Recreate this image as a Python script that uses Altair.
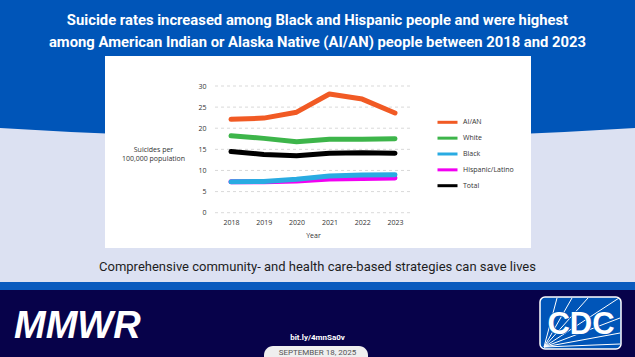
import altair as alt
import pandas as pd

# ---------------- data ----------------
years = [2018, 2019, 2020, 2021, 2022, 2023]
series_names = ["AI/AN", "White", "Black", "Hispanic/Latino", "Total"]
series_colors = ["#F15A24", "#3DB54A", "#29ABE2", "#F200F2", "#000000"]
aian = [22.1, 22.4, 23.8, 28.1, 26.9, 23.6]
white = [18.2, 17.6, 16.8, 17.4, 17.4, 17.5]
black = [7.3, 7.4, 7.9, 8.7, 8.9, 9.0]
hispanic = [7.3, 7.3, 7.5, 8.0, 8.1, 8.2]
total = [14.5, 13.8, 13.5, 14.1, 14.2, 14.1]
y_ticks = [0, 5, 10, 15, 20, 25, 30]

values = {"AI/AN": aian, "White": white, "Black": black,
          "Hispanic/Latino": hispanic, "Total": total}
draw_order = ["AI/AN", "White", "Hispanic/Latino", "Black", "Total"]

title_1 = "Suicide rates increased among Black and Hispanic people and were highest"
title_2 = "among American Indian or Alaska Native (AI/AN) people between 2018 and 2023"
subtitle = "Comprehensive community- and health care-based strategies can save lives"
y_title = ["Suicides per", "100,000 population"]
x_title = "Year"

rows = []
for s in draw_order:
    for yr, v in zip(years, values[s]):
        rows.append({"year": str(yr), "series": s, "rate": v})
df = pd.DataFrame(rows)

W, H = 635, 357
BLUE = "#0055B8"
NAVY = "#07024A"
LAV = "#DCE1F2"
HEAD = "Roboto"
SANS = "Open Sans"

base = alt.Chart(pd.DataFrame({"k": [0]}))


def rect(x, x2, y, y2, color, **kw):
    return base.mark_rect(color=color, **kw).encode(
        x=alt.value(x), x2=alt.value(x2), y=alt.value(y), y2=alt.value(y2))


def text(t, x, y, **kw):
    return base.mark_text(text=t, **kw).encode(x=alt.value(x), y=alt.value(y))


def rule(x, y, x2, y2, **kw):
    return base.mark_rule(**kw).encode(
        x=alt.value(x), y=alt.value(y), x2=alt.value(x2), y2=alt.value(y2))


layers = []
# top blue band with curved bottom edge
layers.append(base.mark_point(
    shape="M0,0H635V128Q317.5,148 0,128Z", size=4, filled=True,
    fill=BLUE, opacity=1, strokeOpacity=0).encode(x=alt.value(0), y=alt.value(0)))
# bottom bands
layers.append(rect(0, W, 282, 290, "#0A5BBE"))
layers.append(rect(0, W, 290, H, NAVY))
# white panel
layers.append(rect(105, 531, 56, 248, "#FFFFFF"))

# titles
layers.append(text(title_1, 317.5, 25, font=HEAD, fontSize=14.8, fontWeight="bold",
                   color="white", align="center", baseline="alphabetic"))
layers.append(text(title_2, 317.5, 46.5, font=HEAD, fontSize=14.8, fontWeight="bold",
                   color="white", align="center", baseline="alphabetic"))
layers.append(text(subtitle, 317.5, 271, font=HEAD, fontSize=13,
                   color="#1E1E1E", align="center", baseline="alphabetic"))

# chart
x_scale = alt.Scale(type="point", domain=[str(y) for y in years], range=[231, 395], padding=0)
y_scale = alt.Scale(domain=[0, 30], range=[212.7, 86], nice=False, zero=True)
color_scale = alt.Scale(domain=series_names, range=series_colors)

x_axis = alt.Axis(orient="bottom", offset=-(H - 215), domain=False, ticks=False, tickSize=0,
                  grid=False, labelAngle=0, labelPadding=3, labelFontSize=7, labelFont=SANS,
                  labelColor="#333333", title=x_title, titleFont=SANS, titleFontSize=7,
                  titleFontWeight="normal", titleColor="#333333", titlePadding=6, zindex=2)
y_axis = alt.Axis(orient="left", offset=-208, domain=False, ticks=False, tickSize=0,
                  grid=False, values=y_ticks, labelPadding=2, labelFontSize=7, labelFont=SANS,
                  labelColor="#333333", title=None, zindex=2)

grid = alt.Chart(pd.DataFrame({"rate": y_ticks})).mark_rule(
    color="#CFCFCF", strokeDash=[3, 3], strokeWidth=0.8).encode(
    y=alt.Y("rate:Q", scale=y_scale, axis=None),
    x=alt.value(215), x2=alt.value(410))
layers.append(grid)

lines = alt.Chart(df).mark_line(strokeWidth=5, strokeCap="round", strokeJoin="round").encode(
    x=alt.X("year:O", scale=x_scale, axis=x_axis, sort=None),
    y=alt.Y("rate:Q", scale=y_scale, axis=y_axis),
    color=alt.Color("series:N", scale=color_scale, legend=None),
    detail="series:N",
)
layers.append(lines)

layers.append(text(y_title[0], 153.5, 150, font=SANS, fontSize=7, color="#333333",
                   align="center", baseline="middle"))
layers.append(text(y_title[1], 153.5, 159.3, font=SANS, fontSize=7, color="#333333",
                   align="center", baseline="middle"))

# legend
leg_df = pd.DataFrame({"series": series_names})
leg_y = alt.Y("series:N", scale=alt.Scale(type="point", domain=series_names,
                                          range=[122.3, 185.7], padding=0), axis=None)
layers.append(alt.Chart(leg_df).mark_rule(strokeWidth=3).encode(
    y=leg_y, x=alt.value(437.5), x2=alt.value(457.5),
    color=alt.Color("series:N", scale=color_scale, legend=None)))
layers.append(alt.Chart(leg_df).mark_text(align="left", baseline="middle", fontSize=7,
                                          font=SANS, color="#333333").encode(
    y=leg_y, x=alt.value(463), text="series:N"))

# footer
layers.append(text("MMWR", 14, 338, font="Liberation Sans", fontSize=38, fontWeight="bold",
                   fontStyle="italic", color="white", align="left", baseline="alphabetic"))
layers.append(text("bit.ly/4mnSa0v", 317.5, 338, font="Roboto", fontSize=8, fontWeight="bold",
                   color="white", align="center", baseline="middle"))
layers.append(rect(264, 368, 346, 372, "#EFEFEF", cornerRadius=9))
layers.append(text("SEPTEMBER 18, 2025", 317.5, 352.5, font="Roboto", fontSize=8,
                   color="#555555", align="center", baseline="middle"))

# CDC logo
layers.append(rect(540, 621, 297, 349, BLUE, cornerRadius=5, stroke="white", strokeWidth=1.5))
ox, oy = 544, 347
for (ex, ey) in [(557, 298), (572, 298), (588, 298), (619, 298), (620, 318), (620, 333), (620, 344)]:
    layers.append(rule(ox, oy, ex, ey, color="white", strokeWidth=1))
layers.append(text("CDC", 581, 334, font="Liberation Sans", fontSize=31, fontWeight="bold",
                   color="white", align="center", baseline="alphabetic",
                   stroke=BLUE, strokeWidth=1.5))
layers.append(text("CDC", 581, 334, font="Liberation Sans", fontSize=31, fontWeight="bold",
                   color="white", align="center", baseline="alphabetic"))

chart = alt.layer(*layers).resolve_scale(y="independent").properties(
    width=W, height=H, autosize=alt.AutoSizeParams(type="none"), padding=0,
    background=LAV,
).configure_view(stroke=None)

chart.save("out.html", embed_options={"renderer": "svg", "actions": False})
